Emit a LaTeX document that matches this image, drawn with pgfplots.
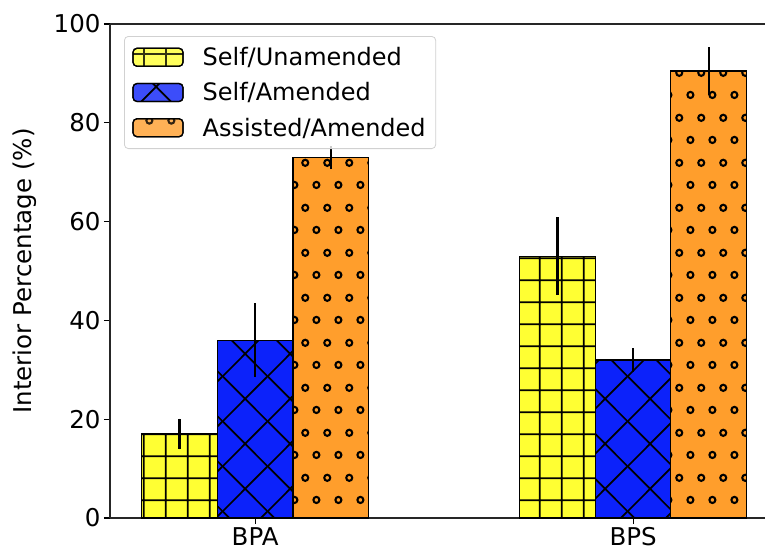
\documentclass[border=0pt]{standalone}
\usepackage{pgfplots}
\pgfplotsset{compat=1.18}
\usepackage{fontspec}
\setmainfont{DejaVu Sans}
\usetikzlibrary{patterns.meta}

\definecolor{cyel}{RGB}{255,255,51}
\definecolor{cblue}{RGB}{12,34,250}
\definecolor{corange}{RGB}{255,158,44}

\pgfdeclarepattern{
  name=mplgrid, type=uncolored,
  bottom left={\pgfpointorigin},
  top right={\pgfpoint{22.3pt}{22.3pt}},
  tile size={\pgfpoint{22.3pt}{22.3pt}},
  code={
    \pgfsetlinewidth{1.8pt}
    \pgfpathmoveto{\pgfpoint{11.15pt}{-1pt}}\pgfpathlineto{\pgfpoint{11.15pt}{23.3pt}}
    \pgfpathmoveto{\pgfpoint{-1pt}{11.15pt}}\pgfpathlineto{\pgfpoint{23.3pt}{11.15pt}}
    \pgfusepath{stroke}
  }
}
\pgfdeclarepattern{
  name=mplcross, type=uncolored,
  bottom left={\pgfpointorigin},
  top right={\pgfpoint{44.6pt}{44.6pt}},
  tile size={\pgfpoint{44.6pt}{44.6pt}},
  code={
    \pgfsetlinewidth{1.7pt}
    \pgfpathmoveto{\pgfpoint{-2pt}{-2pt}}\pgfpathlineto{\pgfpoint{46.6pt}{46.6pt}}
    \pgfpathmoveto{\pgfpoint{-2pt}{46.6pt}}\pgfpathlineto{\pgfpoint{46.6pt}{-2pt}}
    \pgfusepath{stroke}
  }
}
\pgfdeclarepattern{
  name=mplcircles, type=uncolored,
  bottom left={\pgfpointorigin},
  top right={\pgfpoint{22.3pt}{44.6pt}},
  tile size={\pgfpoint{22.3pt}{44.6pt}},
  code={
    \pgfsetlinewidth{2.1pt}
    \pgfpathcircle{\pgfpoint{5.575pt}{11.15pt}}{3.1pt}
    \pgfpathcircle{\pgfpoint{16.725pt}{33.45pt}}{3.1pt}
    \pgfusepath{stroke}
  }
}

\pgfplotsset{
  mybar/.style={ybar, bar width=0.2, bar shift=0, draw=black, line width=1.2pt,
    legend image code/.code={\draw[##1] (0pt,-9pt) rectangle (50pt,9pt);},
    error bars/y dir=both, error bars/y explicit, error bars/error mark=none,
    error bars/error bar style={line width=2.2pt, black, solid}},
}

\begin{document}
\begin{tikzpicture}
\begin{axis}[name=ax, scale only axis, width=655pt, height=494pt,
  xmin=-0.384, xmax=1.349, ymin=0, ymax=100,
  axis x line*=box, axis y line*=left,
  xtick={0,1}, xticklabels={BPA,BPS}, ytick={0,20,40,60,80,100},
  xtick pos=left, ytick pos=left,
  tick align=outside, major tick length=6pt,
  every tick/.style={black, line width=1.1pt},
  axis line style={line width=1.1pt, black!85},
  ylabel={Interior Percentage (\%)},
  ylabel style={at={(axis description cs:-0.1298,0.5)}, anchor=center, draw=white, line width=0.1pt},
  label style={font=\fontsize{24.5}{29}\selectfont},
  tick label style={font=\fontsize{24.5}{29}\selectfont},
  /pgf/number format/assume math mode=true,
  legend cell align=left,
  legend style={at={(axis description cs:0.0214,0.9757)}, anchor=north west,
    draw=black!18, line width=0.8pt, rounded corners=4pt, fill=white,
    fill opacity=0.8, text opacity=1, inner xsep=8pt, inner ysep=9pt,
    row sep=11.5pt, font=\fontsize{24}{29}\selectfont,
    /tikz/every odd column/.append style={column sep=17pt}},
]
\addplot[mybar, fill=cyel, postaction={pattern=mplgrid, pattern color=black}]
  coordinates {(-0.2,17.0) +- (0,3.1) (0.8,53.0) +- (0,7.9)};
\addlegendentry{Self/Unamended}
\addplot[mybar, fill=cblue, postaction={pattern=mplcross, pattern color=black}]
  coordinates {(0,36.0) +- (0,7.5) (1,32.0) +- (0,2.4)};
\addlegendentry{Self/Amended}
\addplot[mybar, fill=corange, postaction={pattern=mplcircles, pattern color=black}]
  coordinates {(0.2,73.0) +- (0,2.4) (1.2,90.5) +- (0,4.8)};
\addlegendentry{Assisted/Amended}
\end{axis}
\pgfresetboundingbox
\path[use as bounding box] ([xshift=-110pt,yshift=-37pt]ax.south west) rectangle ([yshift=24pt]ax.north east);
\end{tikzpicture}
\end{document}
